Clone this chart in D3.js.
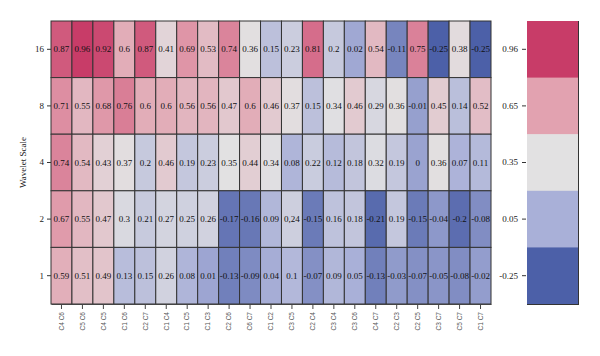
<!DOCTYPE html>
<html><head><meta charset="utf-8">
<script src="https://cdn.jsdelivr.net/npm/d3@7"></script>
<style>body{margin:0;background:#fff}svg{display:block}</style>
</head><body><svg id="c" width="600" height="356"></svg>
<script>
const columns = ["C4 C6","C5 C6","C4 C5","C1 C6","C2 C7","C1 C4","C1 C5","C1 C3","C2 C6","C6 C7","C1 C2","C3 C5","C2 C4","C3 C4","C3 C6","C4 C7","C2 C3","C2 C5","C3 C7","C5 C7","C1 C7"];
const scales = ["16","8","4","2","1"];
const row16 = [0.87,0.96,0.92,0.6,0.87,0.41,0.69,0.53,0.74,0.36,0.15,0.23,0.81,0.2,0.02,0.54,-0.11,0.75,-0.25,0.38,-0.25];
const row8  = [0.71,0.55,0.68,0.76,0.6,0.6,0.56,0.56,0.47,0.6,0.46,0.37,0.15,0.34,0.46,0.29,0.36,-0.01,0.45,0.14,0.52];
const row4  = [0.74,0.54,0.43,0.37,0.2,0.46,0.19,0.23,0.35,0.44,0.34,0.08,0.22,0.12,0.18,0.32,0.19,0,0.36,0.07,0.11];
const row2  = [0.67,0.55,0.47,0.3,0.21,0.27,0.25,0.26,-0.17,-0.16,0.09,0.24,-0.15,0.16,0.18,-0.21,0.19,-0.15,-0.04,-0.2,-0.08];
const row1  = [0.59,0.51,0.49,0.13,0.15,0.26,0.08,0.01,-0.13,-0.09,0.04,0.1,-0.07,0.09,0.05,-0.13,-0.03,-0.07,-0.05,-0.08,-0.02];
const legendTicks = [0.96,0.65,0.35,0.05,-0.25];
const legendColors = ["#c83c68","#e2a2b0","#e2e1e2","#a9b0d8","#4c60a8"];

const rows = [row16,row8,row4,row2,row1];
const cells = [];
rows.forEach((r,i)=>r.forEach((v,j)=>cells.push({s:scales[i],c:columns[j],v})));

const svg = d3.select("#c");
const serif = "'Liberation Serif','Times New Roman',serif";
const x = d3.scaleBand().domain(columns).range([51,491]);
const y = d3.scaleBand().domain(scales).range([21,304]);
const color = d3.scaleLinear().domain(legendTicks.slice().reverse()).range(legendColors.slice().reverse()).clamp(true);

svg.append("g").selectAll("rect").data(cells).join("rect")
  .attr("x",d=>x(d.c)).attr("y",d=>y(d.s))
  .attr("width",x.bandwidth()).attr("height",y.bandwidth())
  .attr("fill",d=>color(d.v)).attr("stroke","#333").attr("stroke-width",1);

svg.append("g").selectAll("text").data(cells).join("text")
  .attr("x",d=>x(d.c)+x.bandwidth()/2).attr("y",d=>y(d.s)+y.bandwidth()/2)
  .attr("text-anchor","middle").attr("dy","0.35em")
  .attr("font-family",serif).attr("font-size",9).attr("fill","#111")
  .text(d=>d.s==="2"&&d.c==="C3 C5"?"0,24":String(d.v));

// y axis
const ya = svg.append("g").attr("transform","translate(51,0)")
  .call(d3.axisLeft(y).tickSize(4).tickPadding(3));
ya.select(".domain").remove();
ya.selectAll("text").attr("font-family",serif).attr("font-size",9).attr("fill","#222");
ya.selectAll("line").attr("stroke","#333");

svg.append("text").attr("transform","translate(26,162.5) rotate(-90)")
  .attr("text-anchor","middle").attr("font-family",serif).attr("font-size",9).attr("fill","#222")
  .text("Wavelet Scale");

// x axis
const xa = svg.append("g").attr("transform","translate(0,304)")
  .call(d3.axisBottom(x).tickSize(5).tickPadding(3).tickSizeOuter(0));
xa.select(".domain").attr("stroke","#444");
xa.selectAll("line").attr("stroke","#444");
xa.selectAll("text").attr("font-family","'Liberation Sans',Arial,sans-serif").attr("font-size",6.5).attr("fill","#555")
  .attr("transform","rotate(-90)").attr("text-anchor","end").attr("x",-8).attr("y",0).attr("dy","0.35em");

// legend
const ly = d3.scaleBand().domain(legendTicks).range([21,304]);
svg.append("g").selectAll("rect").data(legendTicks).join("rect")
  .attr("x",527).attr("y",d=>ly(d)).attr("width",51).attr("height",ly.bandwidth()+0.5)
  .attr("fill",(d,i)=>legendColors[i]);
svg.append("line").attr("x1",578.5).attr("x2",578.5).attr("y1",21).attr("y2",304).attr("stroke","#333");
svg.append("line").attr("x1",527).attr("x2",579).attr("y1",304.5).attr("y2",304.5).attr("stroke","#333");
const la = svg.append("g").attr("transform","translate(526,0)")
  .call(d3.axisLeft(ly).tickSize(4).tickPadding(4));
la.select(".domain").remove();
la.selectAll("text").attr("font-family",serif).attr("font-size",9).attr("fill","#222");
la.selectAll("line").attr("stroke","#333");
</script></body></html>
